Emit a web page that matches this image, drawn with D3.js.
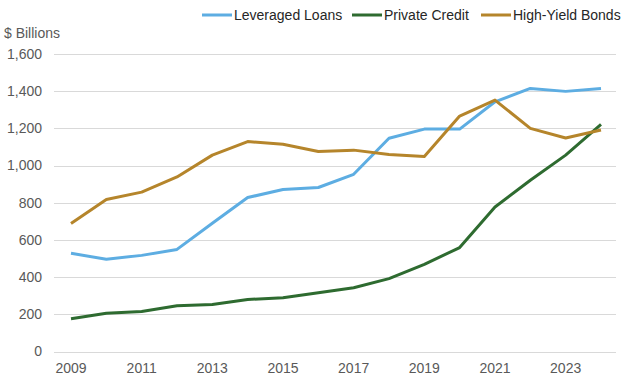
<!DOCTYPE html>
<html>
<head>
<meta charset="utf-8">
<script src="https://cdn.jsdelivr.net/npm/d3@7"></script>
<style>
  body { margin: 0; background: #fff; }
  text { font-family: "Liberation Sans", Arial, sans-serif; }
</style>
</head>
<body>
<div id="chart"></div>
<script>
// years on the x axis
var years = [2009, 2010, 2011, 2012, 2013, 2014, 2015, 2016, 2017, 2018, 2019, 2020, 2021, 2022, 2023, 2024];
var xTicks = [2009, 2011, 2013, 2015, 2017, 2019, 2021, 2023];
var yTicks = [0, 200, 400, 600, 800, 1000, 1200, 1400, 1600];

// series values, $ billions
var leveragedLoans = [528, 496, 517, 549, 690, 828, 871, 882, 953, 1147, 1196, 1196, 1343, 1415, 1399, 1415];
var privateCredit = [176, 206, 215, 246, 253, 280, 289, 316, 343, 392, 469, 559, 777, 921, 1056, 1221];
var highYieldBonds = [688, 817, 857, 939, 1056, 1129, 1115, 1076, 1083, 1060, 1049, 1266, 1352, 1200, 1148, 1191];

var seriesNames = ["Leveraged Loans", "Private Credit", "High-Yield Bonds"];
var seriesColors = ["#5DADE2", "#2E6B30", "#B5852B"];

var series = [leveragedLoans, privateCredit, highYieldBonds].map(function(vals, i) {
  return { name: seriesNames[i], color: seriesColors[i], values: vals };
});

var width = 624, height = 386;

var svg = d3.select("#chart").append("svg")
  .attr("width", width).attr("height", height);

var x = d3.scaleLinear().domain([2009, 2024]).range([71, 601]);
var y = d3.scaleLinear().domain([0, 1600]).range([351.5, 54]);

// gridlines
svg.append("g").selectAll("line")
  .data(yTicks)
  .enter().append("line")
    .attr("x1", 54).attr("x2", 616)
    .attr("y1", function(d) { return Math.round(y(d)) + 0.5; })
    .attr("y2", function(d) { return Math.round(y(d)) + 0.5; })
    .attr("stroke", "#d9d9d9")
    .attr("stroke-width", 1);

// y axis labels
svg.append("g").selectAll("text")
  .data(yTicks)
  .enter().append("text")
    .attr("x", 42)
    .attr("y", function(d) { return y(d); })
    .attr("dy", "0.35em")
    .attr("text-anchor", "end")
    .attr("font-size", 14)
    .attr("fill", "#595959")
    .text(d3.format(","));

// x axis labels
svg.append("g").selectAll("text")
  .data(xTicks)
  .enter().append("text")
    .attr("x", function(d) { return x(d); })
    .attr("y", 368)
    .attr("dy", "0.35em")
    .attr("text-anchor", "middle")
    .attr("font-size", 14)
    .attr("fill", "#595959")
    .text(function(d) { return d; });

// unit label
svg.append("text")
  .attr("x", 4).attr("y", 33)
  .attr("dy", "0.35em")
  .attr("font-size", 14)
  .attr("fill", "#595959")
  .text("$ Billions");

// lines
var line = d3.line()
  .x(function(d, i) { return x(years[i]); })
  .y(function(d) { return y(d); });

svg.append("g").selectAll("path")
  .data(series)
  .enter().append("path")
    .attr("d", function(d) { return line(d.values); })
    .attr("fill", "none")
    .attr("stroke", function(d) { return d.color; })
    .attr("stroke-width", 3)
    .attr("stroke-linejoin", "round");

// legend
var legendX = [202, 352, 481];
var legend = svg.append("g").selectAll("g")
  .data(series)
  .enter().append("g")
    .attr("transform", function(d, i) { return "translate(" + legendX[i] + ",15)"; });

legend.append("line")
  .attr("x1", 0).attr("x2", 30)
  .attr("stroke", function(d) { return d.color; })
  .attr("stroke-width", 3);

legend.append("text")
  .attr("x", 32)
  .attr("dy", "0.35em")
  .attr("font-size", 14)
  .attr("fill", "#262626")
  .text(function(d) { return d.name; });
</script>
</body>
</html>
